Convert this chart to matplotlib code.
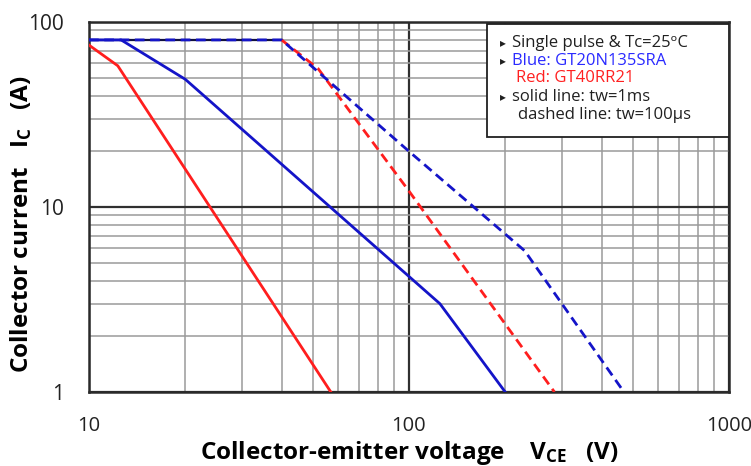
import numpy as np
import matplotlib
matplotlib.use("Agg")
import matplotlib.pyplot as plt
from matplotlib.patches import Rectangle

# DATA ----------------------------------------------------------------------

# GT20N135SRA (blue)
blue_1ms_v = [10, 12.6, 20, 125, 200]
blue_1ms_i = [80, 80, 49, 3.0, 1]
blue_100us_v = [10, 40, 100, 230, 470]
blue_100us_i = [80, 80, 20, 5.8, 1]

# GT40RR21 (red)
red_1ms_v = [10, 12.3, 57]
red_1ms_i = [75, 58, 1]
red_100us_v = [40, 52, 100, 285]
red_100us_i = [80, 56, 12.2, 1]

# current limit (flat part, drawn dark under the dashes)
limit_v = [10, 40]
limit_i = [80, 80]

x_ticks = [10, 100, 1000]
y_ticks = [1, 10, 100]

legend_lines = [
    ("▸", "Single pulse & Tc=25ᵒC", "#202020", 0.661),
    ("▸", "Blue: GT20N135SRA", "#2a2aff", 0.661),
    ("", "Red: GT40RR21", "#ff2020", 0.667),
    ("▸", "solid line: tw=1ms", "#202020", 0.661),
    ("", "dashed line: tw=100μs", "#202020", 0.670),
]

# STYLE ---------------------------------------------------------------------

plt.rcParams['font.family'] = ['Open Sans', 'DejaVu Sans']
plt.rcParams['mathtext.fontset'] = 'custom'
plt.rcParams['mathtext.rm'] = 'Open Sans'
plt.rcParams['mathtext.bf'] = 'Open Sans:bold'

BLUE = "#1414c8"
RED = "#ff1e1e"

fig = plt.figure(figsize=(7.51, 4.66), dpi=100)
ax = fig.add_axes([0.1185, 0.1588, 0.852, 0.7940])

ax.set_xscale('log')
ax.set_yscale('log')
ax.set_xlim(10, 1000)
ax.set_ylim(1, 100)

# grid
ax.grid(which='minor', color='#9a9a9a', lw=1.1, zorder=0)
ax.grid(which='major', color='#303030', lw=1.6, zorder=0.5)
ax.set_axisbelow(True)
ax.tick_params(which='both', length=0)
ax.set_xticks(x_ticks)
ax.set_xticklabels([str(t) for t in x_ticks])
ax.set_yticks(y_ticks)
ax.set_yticklabels([str(t) for t in y_ticks])
ax.tick_params(axis='x', labelsize=14.5, pad=17, colors='#222222')
ax.tick_params(axis='y', labelsize=15, pad=18, colors='#222222')
for s in ax.spines.values():
    s.set_linewidth(1.8)
    s.set_color('#2a2a2a')

# curves
ax.plot(limit_v, limit_i, color='#101040', lw=1.6, zorder=2)
ax.plot(red_1ms_v, red_1ms_i, color=RED, lw=2.0, zorder=3)
ax.plot(blue_1ms_v, blue_1ms_i, color=BLUE, lw=2.0, zorder=3)
ax.plot(red_100us_v, red_100us_i, color=RED, lw=2.0, ls=(0, (3.5, 2)), zorder=3)
ax.plot(blue_100us_v, blue_100us_i, color=BLUE, lw=2.0, ls=(0, (3.5, 2)), zorder=4)

# legend box
ax.add_patch(Rectangle((0.622, 0.689), 0.378, 0.306, transform=ax.transAxes,
                       facecolor='white', edgecolor='#202020', lw=1.3, zorder=5))
line_y = [0.943, 0.895, 0.849, 0.797, 0.749]
for (bullet, txt, col, tx), y in zip(legend_lines, line_y):
    if bullet:
        ax.text(0.642, y, bullet, transform=ax.transAxes, fontsize=8.5,
                va='center', ha='left', color='#202020', zorder=6,
                family=['DejaVu Sans'])
    ax.text(tx, y, txt, transform=ax.transAxes, fontsize=12,
            va='center', ha='left', color=col, zorder=6)

# axis labels
ax.set_ylabel(r"Collector current   $\mathbf{I_C}$   (A)", fontsize=17.5,
              fontweight='bold')
ax.set_xlabel(r"Collector-emitter voltage    $\mathbf{V_{CE}}$   (V)", fontsize=17.5,
              fontweight='bold')
ax.yaxis.set_label_coords(-0.086, 0.454)
ax.xaxis.set_label_coords(0.5, -0.127)

fig.savefig("out.png", dpi=100)
